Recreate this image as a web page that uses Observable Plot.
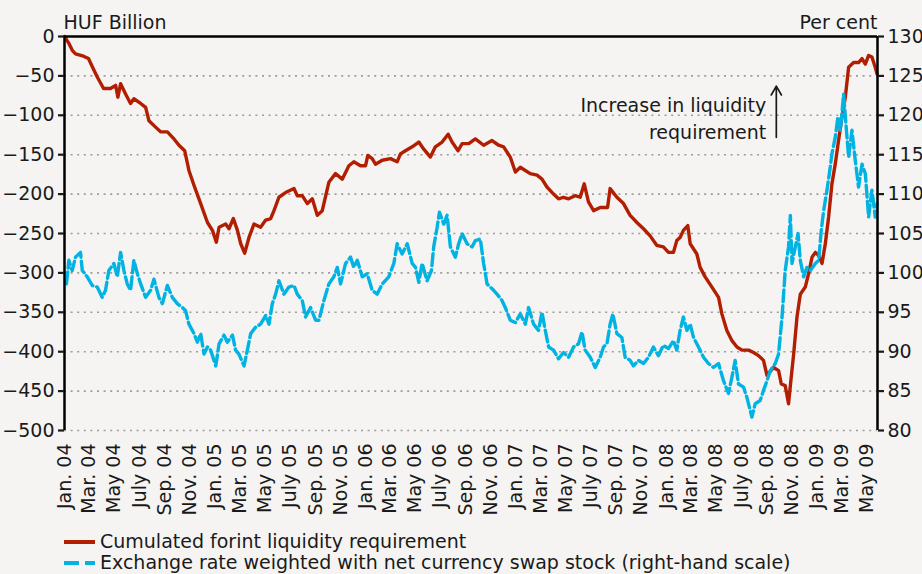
<!DOCTYPE html>
<html><head><meta charset="utf-8">
<script src="https://cdn.jsdelivr.net/npm/d3@7"></script>
<script src="https://cdn.jsdelivr.net/npm/@observablehq/plot@0.6"></script>
<style>
html,body{margin:0;padding:0;background:#f5f4f2;}
body{font-family:"DejaVu Sans",sans-serif;color:#1a1a1a;width:922px;overflow:hidden;}
#legend{margin-left:64px;font-size:19px;line-height:21px;}
#legend .row{display:flex;align-items:center;white-space:nowrap;}
#legend svg{margin-right:5px;flex:none;}
</style></head><body>
<div id="chart"></div>
<div id="legend"></div>
<script>
// ---- data (decimal years, values) ----
const redT = [2004.000,2004.027,2004.053,2004.073,2004.126,2004.159,2004.186,2004.219,2004.259,2004.305,
2004.339,2004.354,2004.372,2004.405,2004.438,2004.460,2004.505,2004.538,2004.560,2004.604,
2004.637,2004.682,2004.726,2004.759,2004.797,2004.825,2004.859,2004.903,2004.948,2004.981,
2005.007,2005.025,2005.069,2005.091,2005.120,2005.147,2005.169,2005.195,2005.224,2005.257,
2005.301,2005.335,2005.368,2005.390,2005.423,2005.467,2005.523,2005.545,2005.578,2005.612,
2005.645,2005.678,2005.711,2005.755,2005.799,2005.844,2005.888,2005.921,2005.965,2005.999,
2006.014,2006.043,2006.065,2006.110,2006.165,2006.209,2006.231,2006.264,2006.309,2006.353,
2006.386,2006.430,2006.463,2006.508,2006.548,2006.574,2006.614,2006.641,2006.685,2006.729,
2006.784,2006.840,2006.884,2006.917,2006.961,2006.995,2007.028,2007.061,2007.094,2007.139,
2007.172,2007.205,2007.249,2007.282,2007.315,2007.349,2007.393,2007.426,2007.453,2007.481,
2007.515,2007.559,2007.608,2007.625,2007.670,2007.714,2007.758,2007.803,2007.847,2007.891,
2007.935,2007.979,2008.013,2008.046,2008.068,2008.090,2008.112,2008.141,2008.157,2008.201,
2008.223,2008.256,2008.301,2008.345,2008.367,2008.400,2008.434,2008.467,2008.500,2008.544,
2008.577,2008.610,2008.643,2008.666,2008.710,2008.743,2008.761,2008.787,2008.809,2008.827,
2008.843,2008.865,2008.887,2008.920,2008.942,2008.965,2008.987,2009.009,2009.031,2009.053,
2009.075,2009.097,2009.119,2009.141,2009.164,2009.186,2009.208,2009.241,2009.274,2009.297,
2009.319,2009.341,2009.363,2009.385,2009.396];
const redV = [0,-8,-18,-22,-25,-28,-39,-52,-66,-66,
-62,-77,-60,-73,-85,-79,-85,-90,-107,-115,
-121,-121,-130,-138,-145,-170,-189,-212,-236,-246,
-261,-242,-238,-244,-231,-246,-263,-275,-255,-238,
-242,-233,-231,-221,-204,-198,-193,-202,-202,-212,
-206,-227,-221,-185,-174,-181,-164,-159,-164,-164,
-151,-155,-162,-157,-155,-159,-149,-145,-140,-134,
-143,-153,-140,-134,-124,-134,-145,-136,-136,-130,
-138,-132,-138,-140,-153,-172,-166,-170,-174,-176,
-181,-191,-200,-206,-204,-206,-202,-204,-187,-210,
-221,-217,-217,-193,-204,-212,-227,-236,-244,-253,
-265,-267,-274,-274,-259,-255,-246,-240,-263,-276,
-293,-305,-318,-331,-352,-373,-386,-394,-398,-398,
-401,-405,-411,-430,-420,-424,-441,-443,-466,-432,
-403,-356,-327,-318,-301,-280,-274,-278,-288,-263,
-229,-187,-162,-132,-102,-77,-39,-33,-33,-28,
-35,-24,-26,-39,-47];

const cyanT = [2004.013,2004.029,2004.051,2004.073,2004.106,2004.118,2004.151,2004.184,2004.217,2004.250,
2004.272,2004.294,2004.327,2004.350,2004.372,2004.394,2004.416,2004.438,2004.460,2004.483,
2004.505,2004.538,2004.571,2004.593,2004.626,2004.649,2004.682,2004.715,2004.748,2004.782,
2004.803,2004.825,2004.859,2004.881,2004.903,2004.925,2004.948,2004.969,2005.003,2005.025,
2005.058,2005.080,2005.114,2005.135,2005.157,2005.191,2005.213,2005.235,2005.268,2005.301,
2005.335,2005.357,2005.379,2005.401,2005.423,2005.456,2005.489,2005.523,2005.545,2005.578,
2005.600,2005.633,2005.667,2005.689,2005.722,2005.755,2005.788,2005.811,2005.833,2005.866,
2005.899,2005.921,2005.944,2005.977,2006.010,2006.043,2006.076,2006.110,2006.153,2006.187,
2006.209,2006.242,2006.276,2006.309,2006.331,2006.353,2006.375,2006.408,2006.437,2006.452,
2006.475,2006.490,2006.519,2006.541,2006.563,2006.596,2006.618,2006.641,2006.674,2006.707,
2006.729,2006.762,2006.784,2006.807,2006.840,2006.873,2006.906,2006.928,2006.961,2006.995,
2007.028,2007.061,2007.083,2007.116,2007.149,2007.172,2007.194,2007.216,2007.249,2007.282,
2007.315,2007.349,2007.382,2007.415,2007.438,2007.459,2007.493,2007.526,2007.559,2007.581,
2007.604,2007.625,2007.643,2007.670,2007.703,2007.725,2007.758,2007.780,2007.813,2007.847,
2007.880,2007.913,2007.946,2007.979,2008.013,2008.046,2008.068,2008.090,2008.112,2008.135,
2008.157,2008.179,2008.212,2008.245,2008.278,2008.311,2008.345,2008.378,2008.411,2008.434,
2008.455,2008.477,2008.511,2008.533,2008.566,2008.588,2008.621,2008.643,2008.666,2008.688,
2008.721,2008.743,2008.766,2008.787,2008.809,2008.821,2008.832,2008.854,2008.872,2008.887,
2008.909,2008.931,2008.953,2008.987,2009.009,2009.026,2009.042,2009.064,2009.080,2009.097,
2009.119,2009.137,2009.153,2009.175,2009.190,2009.208,2009.230,2009.252,2009.274,2009.297,
2009.319,2009.341,2009.363,2009.385,2009.398];
const cyanV = [98.6,101.6,100.3,102.0,102.6,100.3,99.5,98.4,98.2,96.9,
97.8,100.3,101.2,99.5,102.6,100.3,98.6,97.8,101.6,99.9,
98.6,96.9,97.8,99.2,96.9,96.1,98.4,96.9,96.1,95.6,
95.2,93.5,92.3,91.2,92.3,89.7,90.6,90.2,88.2,91.0,
92.1,91.2,92.1,90.2,89.7,88.2,90.2,92.3,93.1,93.5,
94.6,93.5,96.1,97.3,99.0,97.3,98.2,98.4,97.3,96.5,
94.4,95.6,94.0,94.0,96.5,98.6,99.5,100.7,98.6,101.2,
102.0,100.7,101.6,99.5,99.9,97.8,97.3,98.6,99.5,101.2,
103.7,102.4,103.7,101.2,100.7,98.8,101.2,99.0,100.3,103.3,
105.8,107.7,106.2,107.3,103.3,102.0,103.7,105.0,103.7,103.3,
104.1,104.3,101.2,98.6,98.0,97.3,96.5,95.6,94.0,93.7,
94.8,93.5,95.6,93.5,92.7,95.0,92.7,90.6,90.2,89.1,
89.9,89.3,90.6,91.0,92.5,90.2,89.3,88.0,89.3,90.6,
91.0,93.5,94.8,92.3,91.8,89.3,88.9,88.2,88.9,88.5,
89.3,90.6,89.5,90.8,90.4,91.4,90.2,92.7,94.4,92.7,
93.5,91.8,90.6,89.3,88.5,88.0,88.5,86.3,84.7,86.8,
88.9,85.9,85.5,84.2,81.7,83.4,83.8,85.1,86.3,87.6,
88.5,89.7,94.4,100.3,103.3,107.3,101.2,103.3,105.0,101.6,
99.5,100.7,100.3,101.2,101.6,105.4,107.9,110.5,112.6,115.1,
117.2,119.8,118.1,122.7,118.9,114.7,118.1,114.3,110.9,113.8,
112.6,107.1,110.5,107.1,108.8];

const leftTicks = [0,-50,-100,-150,-200,-250,-300,-350,-400,-450,-500];
const rightTicks = [130,125,120,115,110,105,100,95,90,85,80];
const monthNames = ["Jan.","Feb.","Mar.","Apr.","May","June","July","Aug.","Sep.","Oct.","Nov.","Dec."];
const xStartEnd = [2004.0, 2009.40];
const tickStartEnd = [2004.0, 2009.34];
const seriesNames = ["Cumulated forint liquidity requirement","Exchange rate weighted with net currency swap stock (right-hand scale)"];
const seriesColors = ["#b21e02","#00b3e2"];
const axisTitles = ["HUF Billion","Per cent"];
const noteText = ["Increase in liquidity\nrequirement"];
const noteT = [2008.661];
const noteV = [-102];
const arrowT = [2008.728];
const arrowFrom = [-128];
const arrowTo = [-63];

// ---- helpers ----
function yearToDate(t){const y=Math.floor(t);const a=Date.UTC(y,0,1),b=Date.UTC(y+1,0,1);return new Date(a+(t-y)*(b-a));}
const toLeft = p => (p-130)*10;
const toRight = v => v/10+130;

const red = redT.map((t,i)=>({date:yearToDate(t), v:redV[i]}));
const cyan = cyanT.map((t,i)=>({date:yearToDate(t), v:toLeft(cyanV[i])}));
const xDomain = xStartEnd.map(yearToDate);
const xTicks = d3.utcMonth.every(2).range(yearToDate(tickStartEnd[0]), yearToDate(tickStartEnd[1]));
const notes = noteText.map((s,i)=>({date:yearToDate(noteT[i]), v:noteV[i], s}));
const arrows = arrowT.map((t,i)=>({date:yearToDate(t), y1:arrowFrom[i], y2:arrowTo[i]}));

const chart = Plot.plot({
  width: 922, height: 531,
  marginLeft: 64, marginRight: 45, marginTop: 36, marginBottom: 101,
  style: {background:"#f5f4f2", fontFamily:"'DejaVu Sans', sans-serif", fontSize:"19px", color:"#1a1a1a", overflow:"visible"},
  x: {type:"utc", domain: xDomain},
  y: {domain: [-500, 0]},
  marks: [
    Plot.gridY(leftTicks.filter(d => d < 0), {stroke:"#9c9c9c", strokeOpacity:1, strokeWidth:1.6, strokeDasharray:"2,4.6"}),
    Plot.line(red, {x:"date", y:"v", stroke:seriesColors[0], strokeWidth:3.4, strokeLinejoin:"round", curve:"linear"}),
    Plot.line(cyan, {x:"date", y:"v", stroke:seriesColors[1], strokeWidth:3.4, strokeDasharray:"12,4", curve:"linear"}),
    Plot.ruleY([leftTicks[0]], {stroke:"#000", strokeWidth:2.5}),
    Plot.ruleX(xDomain, {stroke:"#000", strokeWidth:2.5}),
    Plot.axisY({anchor:"left", ticks:leftTicks, tickSize:6, tickPadding:4, label:null, strokeWidth:2.2}),
    Plot.axisY({anchor:"right", ticks:rightTicks.map(toLeft), tickFormat:d => String(Math.round(toRight(d))), tickSize:6, tickPadding:4, label:null, strokeWidth:2.2}),
    Plot.axisX({ticks:xTicks, tickFormat:d => monthNames[d.getUTCMonth()] + " " + String(d.getUTCFullYear()).slice(2), tickRotate:-90, tickSize:0, tickPadding:13, label:null}),
    Plot.text([axisTitles[0]], {text:d=>d, frameAnchor:"top-left", lineAnchor:"middle", textAnchor:"start", dx:-1, dy:-14, fill:"#1a1a1a"}),
    Plot.text([axisTitles[1]], {text:d=>d, frameAnchor:"top-right", lineAnchor:"middle", textAnchor:"end", dy:-14, fill:"#1a1a1a"}),
    Plot.text(notes, {x:"date", y:"v", text:"s", textAnchor:"end", lineHeight:1.42, fill:"#1a1a1a"}),
    Plot.arrow(arrows, {x1:"date", x2:"date", y1:"y1", y2:"y2", stroke:"#1a1a1a", strokeWidth:1.7, headLength:9})
  ]
});
document.getElementById("chart").appendChild(chart);

// ---- legend ----
const legend = document.getElementById("legend");
seriesNames.forEach((name,i)=>{
  const row = document.createElement("div"); row.className="row";
  const dash = i===1 ? ' stroke-dasharray="15,6"' : '';
  row.innerHTML = `<svg width="31" height="10"><line x1="0" x2="31" y1="5" y2="5" stroke="${seriesColors[i]}" stroke-width="4"${dash}/></svg><span>${name}</span>`;
  legend.appendChild(row);
});
</script>
</body></html>
